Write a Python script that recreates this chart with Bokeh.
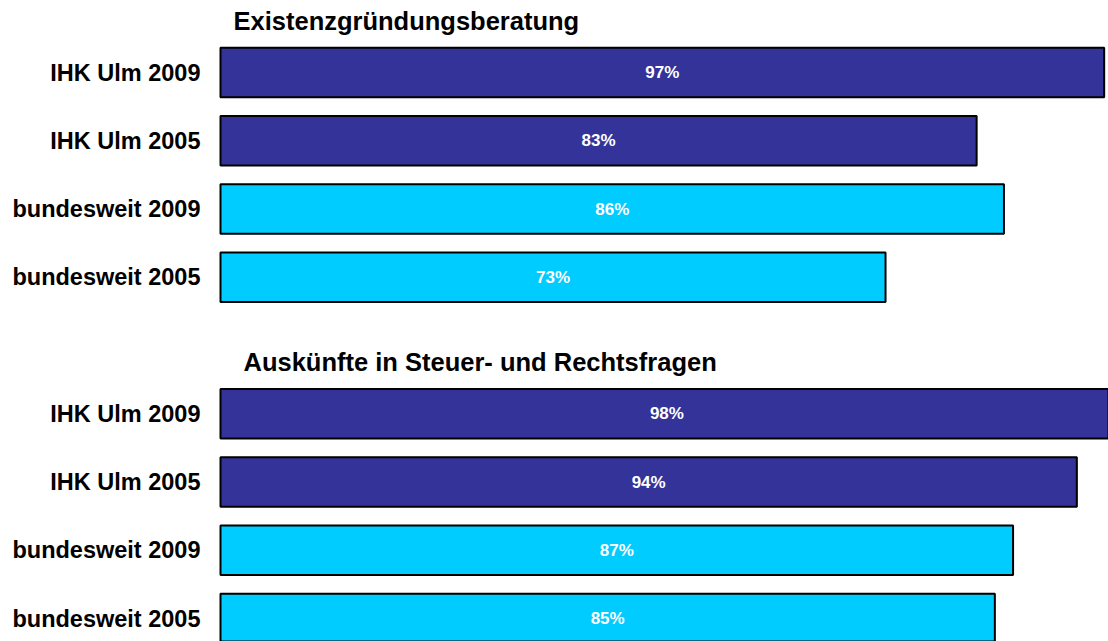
from bokeh.plotting import figure
from bokeh.models import Range1d, FixedTicker, ColumnDataSource
from bokeh.core.properties import value
from bokeh.embed import file_html
from bokeh.resources import INLINE

# ---- data ----
categories = ["IHK Ulm 2009", "IHK Ulm 2005", "bundesweit 2009", "bundesweit 2005"]
colors = ["#333399", "#333399", "#00CCFF", "#00CCFF"]
group_titles = ["Existenzgründungsberatung", "Auskünfte in Steuer- und Rechtsfragen"]
values_existenz = [97, 83, 86, 73]
values_auskunft = [98, 94, 87, 85]

FONT = "Liberation Sans"

# ---- layout helpers ----
groups = [values_existenz, values_auskunft]
rows, vals, cols, labels, texts = [], [], [], [], []
for g, vals_g in enumerate(groups):
    for i, v in enumerate(vals_g):
        r = g * 5 + i
        rows.append(r)
        vals.append(v)
        cols.append(colors[i])
        labels.append(categories[i])
        texts.append(f"{v}%")

src = ColumnDataSource(dict(y=rows, right=vals, color=cols, mid=[v / 2 for v in vals], txt=texts))

W, H = 1108, 641
left_border = 212
px_per_pct = 9.11
bar_x0 = 220
pitch = 68.25
row0_px = 72

x_start = -(bar_x0 - left_border) / px_per_pct
x_end = (W - bar_x0) / px_per_pct
y_top = -row0_px / pitch
y_bottom = (H - row0_px) / pitch

p = figure(width=W, height=H, output_backend="svg", toolbar_location=None,
           x_range=Range1d(x_start, x_end), y_range=Range1d(y_bottom, y_top),
           min_border_left=left_border, min_border_right=0, min_border_top=0,
           min_border_bottom=0, x_axis_location=None)
p.outline_line_color = None
p.xgrid.visible = False
p.ygrid.visible = False
p.background_fill_color = "white"
p.border_fill_color = "white"

p.hbar(y="y", left=0, right="right", height=0.725, fill_color="color",
       line_color="black", line_width=2, source=src)

p.text(x="mid", y="y", text="txt", source=src, text_color="white",
       text_font=value(FONT), text_font_style="bold",
       text_font_size="17px", text_align="center", text_baseline="middle")

# group titles
title_x_px = [233, 243]
for g, t in enumerate(group_titles):
    p.text(x=[(title_x_px[g] - bar_x0) / px_per_pct], y=[g * 5 - 0.76], text=[t],
           text_color="black", text_font=value(FONT), text_font_style="bold",
           text_font_size="25.5px", text_align="left", text_baseline="middle")

ax = p.yaxis[0]
ax.ticker = FixedTicker(ticks=rows)
ax.major_label_overrides = {r: l for r, l in zip(rows, labels)}
ax.axis_line_color = None
ax.major_tick_line_color = None
ax.minor_tick_line_color = None
ax.major_tick_in = 0
ax.major_tick_out = 0
ax.major_label_standoff = 12
ax.major_label_text_font = FONT
ax.major_label_text_font_style = "bold"
ax.major_label_text_font_size = "23.5px"
ax.major_label_text_color = "black"

open("out.html", "w").write(file_html(p, INLINE))
